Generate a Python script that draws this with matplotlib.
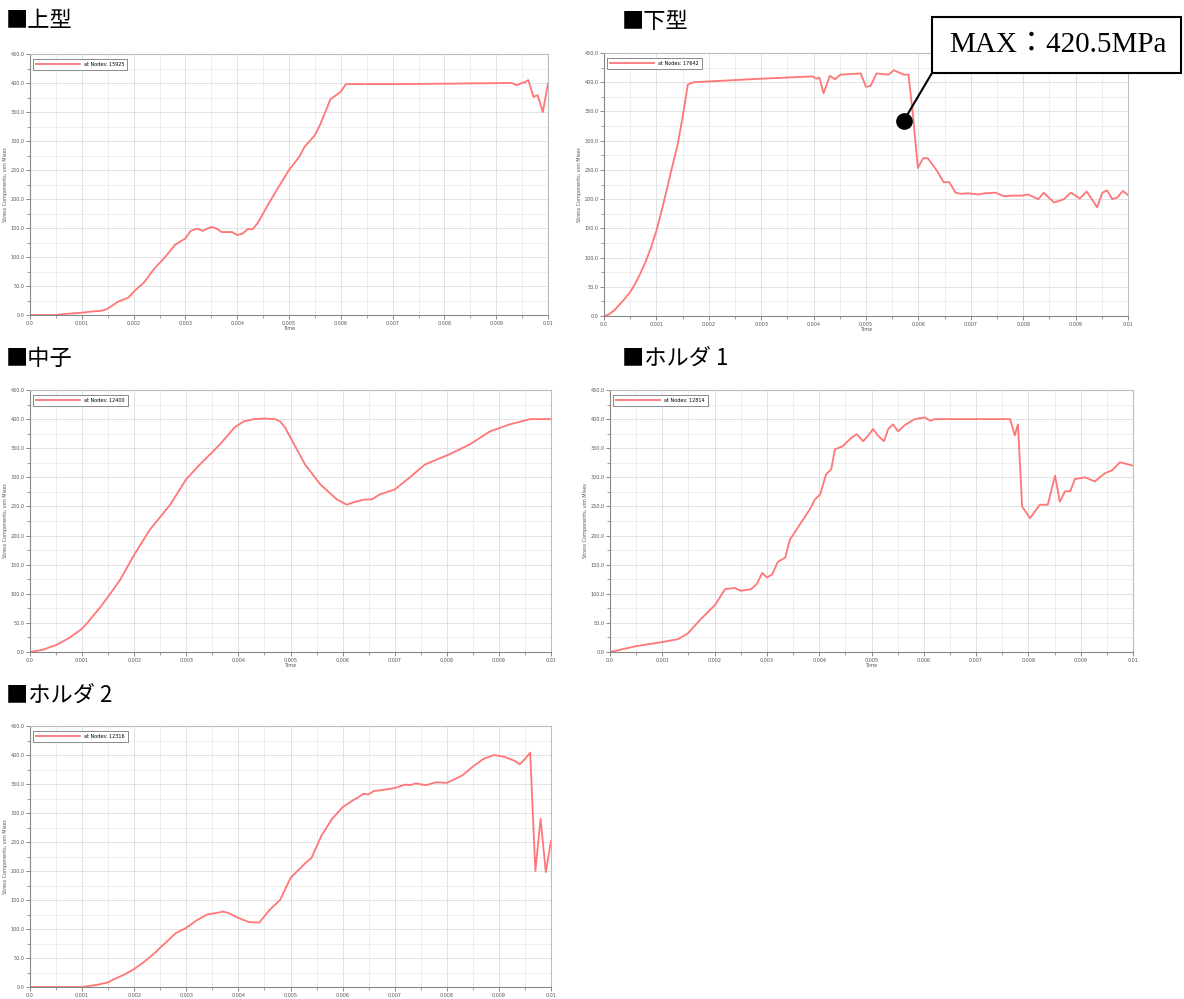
"""
Von Mises stress history at the peak node of each die part (upper die,
lower die, core, holder 1, holder 2).
"""

import matplotlib
matplotlib.use('Agg')
import matplotlib.pyplot as plt
from matplotlib.patches import Rectangle
from matplotlib.ticker import FixedLocator, MultipleLocator

W, H = 1184, 999
LINE_COLOR = '#ff7676'
JP_FONT = ['Noto Sans CJK JP', 'DejaVu Sans']

titles = ['■上型', '■下型', '■中子', '■ホルダ 1', '■ホルダ 2']
node_labels = ['at Nodes: 15925', 'at Nodes: 17642', 'at Nodes: 12400',
               'at Nodes: 12814', 'at Nodes: 12316']

x_ticks = [0.0, 0.001, 0.002, 0.003, 0.004, 0.005, 0.006, 0.007, 0.008, 0.009, 0.01]
x_tick_labels = ['0.0', '0.001', '0.002', '0.003', '0.004', '0.005', '0.006',
                 '0.007', '0.008', '0.009', '0.01']
y_ticks = [0, 50, 100, 150, 200, 250, 300, 350, 400, 450]
y_tick_labels = ['0.0', '50.0', '100.0', '150.0', '200.0', '250.0', '300.0',
                 '350.0', '400.0', '450.0']

# upper die
t_upper = [0, 0.0005, 0.0007, 0.001, 0.0012, 0.0014, 0.0015, 0.0017, 0.0019, 0.002,
           0.0022, 0.0024, 0.0026, 0.0028, 0.003, 0.0031, 0.00323, 0.00333, 0.0035,
           0.0036, 0.0037, 0.0039, 0.004, 0.0041, 0.0042, 0.0043, 0.0044, 0.0046,
           0.0048, 0.005, 0.0052, 0.0053, 0.0055, 0.0056, 0.0058, 0.006, 0.0061,
           0.007, 0.0093, 0.0094, 0.0095, 0.00955, 0.00962, 0.00972, 0.0098,
           0.0099, 0.01]
s_upper = [0, 0, 2, 4, 6, 7.5, 11, 23, 30, 40,
           56, 80, 99, 121, 132, 145, 149, 145, 152,
           149, 143, 143, 138, 140, 148, 148, 159, 191,
           221, 250, 273, 290, 310, 328, 372, 385, 398,
           398, 400, 396, 400.5, 401, 405, 376, 379,
           350, 399]

# lower die
t_lower = [0, 0.0001, 0.0002, 0.0003, 0.0004, 0.0005, 0.0006, 0.0007, 0.0008, 0.0009,
           0.001, 0.0011, 0.0012, 0.0013, 0.0014, 0.0015, 0.0016, 0.00171, 0.003,
           0.00398, 0.00405, 0.00411, 0.00419, 0.00431,
           0.00441, 0.00451, 0.0049, 0.005, 0.00509, 0.0052, 0.00543, 0.00553, 0.00572,
           0.00581, 0.00589, 0.00599, 0.00609, 0.00618, 0.00635, 0.00648, 0.00659,
           0.00671, 0.00681, 0.00694, 0.00714, 0.00727, 0.00747, 0.00763, 0.0078,
           0.00799, 0.00809, 0.00829, 0.00839, 0.00859, 0.00878, 0.00891, 0.00908,
           0.00921, 0.00931, 0.00941, 0.00951, 0.0096, 0.0097, 0.0098, 0.0099, 0.01]
s_lower = [0, 3, 10, 20, 30, 41, 56, 74, 94, 118,
           146, 180, 217, 255, 291, 340, 396, 400, 406,
           410, 406, 408, 381, 411,
           405, 413, 415, 392, 394, 415, 413, 420.5, 413,
           413, 349, 253, 270, 270, 249, 229, 229,
           211, 209, 210, 208, 210, 211, 205, 206,
           206, 208, 200, 211, 194, 200, 211, 201,
           213, 200, 186, 211, 215, 200, 203, 214, 207]

# core
t_core = [0, 0.00025, 0.0005, 0.00075, 0.001, 0.0011, 0.00134, 0.0015, 0.00173, 0.002,
          0.0023, 0.00269, 0.003, 0.00326, 0.00365, 0.00393, 0.0041, 0.0043, 0.0045,
          0.0047, 0.0048, 0.0049, 0.005, 0.00528, 0.00557, 0.00589, 0.00608, 0.00624,
          0.00643, 0.00656, 0.00672, 0.007, 0.00729, 0.00758, 0.00806, 0.00845,
          0.00883, 0.00921, 0.0096, 0.01]
s_core = [0, 4, 12, 24, 40, 50, 76, 95, 124, 167,
          210, 253, 297, 322, 357, 386, 396, 400, 401,
          400, 396, 385, 368, 322, 288, 262, 253, 258,
          262, 262, 271, 279, 300, 322, 340, 357,
          379, 391, 400, 400]

# holder 1
t_holder1 = [0, 0.0005, 0.00099, 0.0013, 0.00149, 0.00172, 0.00201, 0.0022, 0.00239,
             0.0025, 0.0027, 0.00281, 0.00291, 0.003, 0.0031, 0.00321, 0.00335, 0.00344,
             0.00363, 0.00382, 0.00392, 0.00402, 0.00413, 0.00423, 0.0043, 0.00444,
             0.00463, 0.00472, 0.00484, 0.00493, 0.00503, 0.00512, 0.00524, 0.00532,
             0.00541, 0.00551, 0.00564, 0.00583, 0.00602, 0.00612, 0.00621, 0.007,
             0.00765, 0.00774, 0.0078, 0.00788, 0.00803, 0.00822, 0.00837, 0.00851,
             0.0086, 0.0087, 0.0088, 0.00889, 0.00908, 0.00927, 0.00946, 0.0096,
             0.00975, 0.01]
s_holder1 = [0, 10, 17, 22, 32, 55, 81, 108, 110,
             105, 108, 117, 136, 128, 133, 155, 162, 193,
             219, 245, 262, 271, 305, 314, 348, 353,
             369, 374, 362, 371, 383, 372, 362, 383,
             391, 379, 390, 400, 403, 397, 400, 400,
             400, 372, 391, 250, 230, 253, 253, 303,
             258, 276, 276, 297, 300, 293, 307, 312,
             326, 320]

# holder 2
t_holder2 = [0, 0.001, 0.0013, 0.0015, 0.0016, 0.0018, 0.002, 0.0022, 0.0024, 0.0025,
             0.0026, 0.0028, 0.003, 0.0032, 0.0034, 0.0036, 0.0037, 0.0038, 0.004,
             0.0042, 0.0044, 0.0046, 0.0048, 0.005, 0.0053, 0.0054, 0.0056, 0.0058,
             0.006, 0.0062, 0.0063, 0.0064, 0.0065, 0.0066, 0.0068, 0.007, 0.0072,
             0.0073, 0.0074, 0.0076, 0.0078, 0.008, 0.0081, 0.0083, 0.0085, 0.0087,
             0.0089, 0.0091, 0.0093, 0.0094, 0.0095, 0.0096, 0.0097, 0.0098, 0.0099,
             0.01]
s_holder2 = [0, 0, 4, 8, 13, 21, 31, 44, 59, 68,
             76, 93, 102, 115, 125, 128, 130, 128, 119,
             112, 111, 133, 150, 188, 215, 222, 262, 290,
             310, 322, 327, 333, 332, 338, 340, 343, 349,
             348, 351, 348, 353, 352, 356, 365, 380, 393,
             400, 397, 390, 384, 393, 404, 200, 290, 198,
             252]

# panel boxes in pixels: left, right, top, bottom
boxes = [(30, 548, 54, 315), (604, 1128, 53, 316), (30, 551, 390, 652),
         (610, 1133, 390, 652), (30, 551, 726, 987)]
title_pos = [(6, 21), (622, 21), (6, 358), (622, 358), (6, 695)]
series = [(t_upper, s_upper), (t_lower, s_lower), (t_core, s_core),
          (t_holder1, s_holder1), (t_holder2, s_holder2)]


def make_axes(fig, box):
    l, r, t, b = box
    return fig.add_axes([l / W, 1 - b / H, (r - l) / W, (b - t) / H])


def style_axes(ax, time_label=True):
    ax.set_xlim(0, 0.01)
    ax.set_ylim(0, 450)
    ax.xaxis.set_major_locator(FixedLocator(x_ticks))
    ax.set_xticklabels(x_tick_labels)
    ax.xaxis.set_minor_locator(MultipleLocator(0.0005))
    ax.yaxis.set_major_locator(FixedLocator(y_ticks))
    ax.set_yticklabels(y_tick_labels)
    ax.yaxis.set_minor_locator(MultipleLocator(25))
    ax.grid(True, which='major', color='#dddddd', lw=0.6)
    ax.grid(True, which='minor', color='#e8e8e8', lw=0.5)
    ax.set_axisbelow(True)
    ax.tick_params(which='major', labelsize=3.5, labelcolor='#555555',
                   color='#777777', length=3, width=0.6, pad=1)
    ax.tick_params(which='minor', color='#777777', length=2, width=0.5)
    for side, spine in ax.spines.items():
        spine.set_color('#888888' if side in ('left', 'bottom') else '#bbbbbb')
        spine.set_linewidth(0.8)
    if time_label:
        ax.set_xlabel('Time', fontsize=3.5, color='#555555', labelpad=0)
    ax.set_ylabel('Stress Components, von Mises', fontsize=3.5,
                  color='#555555', labelpad=2)


fig = plt.figure(figsize=(W / 100, H / 100), dpi=100)

axes = []
for i in range(5):
    ax = make_axes(fig, boxes[i])
    # bottom panel runs to the page edge, no room for the axis title
    style_axes(ax, time_label=(i < 4))
    t, s = series[i]
    ax.plot(t, s, color=LINE_COLOR, lw=1.3, label=node_labels[i])
    leg = ax.legend(loc='upper left', fontsize=3.5, handlelength=9,
                    fancybox=False, framealpha=1, borderpad=0.6,
                    edgecolor='#777777', bbox_to_anchor=(0.002, 0.99))
    leg.get_frame().set_linewidth(0.6)
    tx, ty = title_pos[i]
    fig.text(tx / W, 1 - ty / H, titles[i], fontsize=16, va='center',
             ha='left', family=JP_FONT)
    axes.append(ax)

# callout for the peak on the lower die
ax2 = axes[1]
ax2.plot([0.00572], [334], 'o', color='black', ms=11, zorder=5)
ax2.annotate('', xy=(0.00572, 334), xycoords='data',
             xytext=(932, H - 73), textcoords='figure pixels',
             arrowprops=dict(arrowstyle='-', color='black', lw=1.5,
                             shrinkA=0, shrinkB=0))
fig.patches.append(Rectangle((932 / W, 1 - 73 / H), 249 / W, 56 / H,
                             transform=fig.transFigure, facecolor='white',
                             edgecolor='black', lw=1.5, zorder=10))
fig.text(1058 / W, 1 - 45 / H, 'MAX：420.5MPa', fontsize=21, ha='center',
         va='center', family=['Liberation Serif', 'Noto Sans CJK JP'], zorder=11)

fig.savefig('out.png', dpi=100)
